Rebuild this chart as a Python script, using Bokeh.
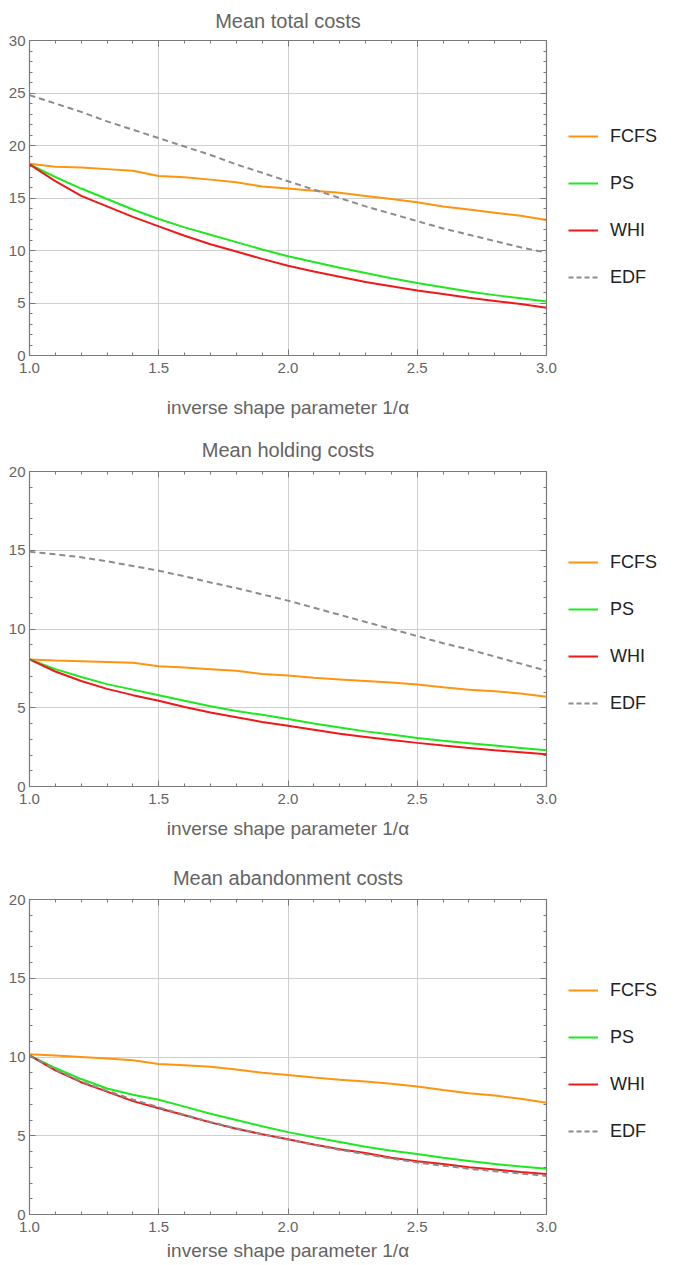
from bokeh.plotting import figure
from bokeh.models import (LinearAxis, Legend, LegendItem, SingleIntervalTicker,
                          PrintfTickFormatter, Range1d, FixedTicker, CustomJSTickFormatter)
from bokeh.layouts import column, row
from bokeh.embed import file_html
from bokeh.resources import INLINE

x = [1.0, 1.1, 1.2, 1.3, 1.4, 1.5, 1.6, 1.7, 1.8, 1.9, 2.0,
     2.1, 2.2, 2.3, 2.4, 2.5, 2.6, 2.7, 2.8, 2.9, 3.0]

series_names = ["FCFS", "PS", "WHI", "EDF"]
x_label = "inverse shape parameter 1/α"

# Panel 1: Mean total costs
total_title = "Mean total costs"
total_fcfs = [18.27, 17.98, 17.9, 17.75, 17.6, 17.1, 16.97, 16.75, 16.5, 16.1, 15.9,
              15.7, 15.5, 15.2, 14.9, 14.6, 14.2, 13.9, 13.6, 13.3, 12.9]
total_ps = [18.2, 17.0, 15.9, 14.9, 13.9, 13.0, 12.2, 11.5, 10.8, 10.1, 9.45,
            8.9, 8.35, 7.85, 7.35, 6.9, 6.5, 6.1, 5.75, 5.45, 5.15]
total_whi = [18.2, 16.6, 15.2, 14.2, 13.2, 12.3, 11.4, 10.6, 9.9, 9.2, 8.55,
             8.0, 7.5, 7.0, 6.6, 6.2, 5.85, 5.5, 5.2, 4.9, 4.55]
total_edf = [24.8, 24.0, 23.2, 22.3, 21.5, 20.7, 19.9, 19.1, 18.2, 17.4, 16.6,
             15.8, 15.0, 14.2, 13.5, 12.8, 12.1, 11.5, 10.9, 10.3, 9.8]

# Panel 2: Mean holding costs
hold_title = "Mean holding costs"
hold_fcfs = [8.07, 8.0, 7.95, 7.9, 7.85, 7.63, 7.55, 7.45, 7.35, 7.15, 7.05,
             6.9, 6.8, 6.7, 6.6, 6.48, 6.3, 6.15, 6.05, 5.9, 5.7]
hold_ps = [8.07, 7.45, 6.95, 6.5, 6.15, 5.8, 5.45, 5.1, 4.8, 4.55, 4.28,
           4.0, 3.75, 3.5, 3.3, 3.08, 2.9, 2.75, 2.6, 2.45, 2.3]
hold_whi = [8.07, 7.3, 6.7, 6.2, 5.8, 5.45, 5.05, 4.7, 4.4, 4.1, 3.85,
            3.6, 3.35, 3.15, 2.95, 2.77, 2.6, 2.45, 2.3, 2.18, 2.05]
hold_edf = [14.9, 14.75, 14.55, 14.3, 14.0, 13.7, 13.35, 12.95, 12.6, 12.2, 11.8,
            11.35, 10.9, 10.45, 10.0, 9.55, 9.1, 8.7, 8.25, 7.8, 7.35]

# Panel 3: Mean abandonment costs
aband_title = "Mean abandonment costs"
aband_fcfs = [10.17, 10.1, 10.0, 9.9, 9.8, 9.56, 9.48, 9.38, 9.2, 9.0, 8.86,
              8.7, 8.55, 8.45, 8.3, 8.12, 7.9, 7.7, 7.55, 7.35, 7.1]
aband_ps = [10.1, 9.3, 8.6, 8.0, 7.6, 7.28, 6.85, 6.4, 6.0, 5.6, 5.23,
            4.9, 4.6, 4.3, 4.05, 3.84, 3.6, 3.4, 3.2, 3.05, 2.9]
aband_whi = [10.1, 9.15, 8.4, 7.8, 7.2, 6.75, 6.3, 5.85, 5.45, 5.1, 4.78,
             4.45, 4.15, 3.9, 3.6, 3.38, 3.2, 3.0, 2.85, 2.7, 2.57]
aband_edf = [10.1, 9.2, 8.45, 7.85, 7.3, 6.8, 6.33, 5.88, 5.47, 5.1, 4.75,
             4.42, 4.1, 3.83, 3.55, 3.3, 3.1, 2.9, 2.75, 2.6, 2.45]

COLORS = {"FCFS": "#FF9410", "PS": "#1EE81E", "WHI": "#F01818", "EDF": "#8C8C8C"}
GRAY_TXT = "#646464"
FRAME = "#7a7a7a"
FONT = "Liberation Sans"


def style_axis(ax, labels=True):
    ax.axis_line_color = None
    ax.major_tick_in = 6
    ax.major_tick_out = 0
    ax.minor_tick_in = 3
    ax.minor_tick_out = 0
    ax.major_tick_line_color = FRAME
    ax.minor_tick_line_color = FRAME
    ax.major_label_text_font = FONT
    ax.major_label_text_font_size = "15px"
    ax.major_label_text_color = GRAY_TXT
    if not labels:
        ax.formatter = CustomJSTickFormatter(code="return '';")
        ax.major_label_standoff = 0
        ax.major_label_text_font_size = "1px"


def make_panel(title, ymax, data, top, bottom, title_standoff, label_standoff, leg_y):
    p = figure(frame_width=517, frame_height=315, x_range=Range1d(1, 3),
               y_range=Range1d(0, ymax), output_backend="svg",
               toolbar_location=None, min_border_left=29, min_border_right=22,
               min_border_top=top, min_border_bottom=bottom, title=title)
    p.title.align = "center"
    p.title.vertical_align = "middle"
    p.title.text_font = FONT
    p.title.text_font_size = "20px"
    p.title.text_font_style = "normal"
    p.title.text_color = GRAY_TXT
    p.title.standoff = title_standoff
    p.outline_line_color = FRAME
    p.outline_line_width = 1.2
    p.background_fill_color = "white"
    p.border_fill_color = "white"

    p.xaxis.ticker = SingleIntervalTicker(interval=0.5, num_minor_ticks=5)
    p.yaxis.ticker = SingleIntervalTicker(interval=5, num_minor_ticks=5)
    p.xaxis.formatter = PrintfTickFormatter(format="%.1f")
    for ax in p.xaxis + p.yaxis:
        style_axis(ax)
    p.xaxis.major_label_standoff = 7
    p.yaxis.major_label_standoff = 4
    p.xaxis.axis_label = x_label
    p.xaxis.axis_label_text_font = FONT
    p.xaxis.axis_label_text_font_size = "19px"
    p.xaxis.axis_label_text_font_style = "normal"
    p.xaxis.axis_label_text_color = GRAY_TXT
    p.xaxis.axis_label_standoff = label_standoff

    p.xgrid.ticker = FixedTicker(ticks=[1.5, 2.0, 2.5])
    p.xgrid.grid_line_color = "#cfcfcf"
    p.ygrid.grid_line_color = "#cfcfcf"

    ax_r = LinearAxis(ticker=SingleIntervalTicker(interval=5, num_minor_ticks=5))
    style_axis(ax_r, labels=False)
    p.add_layout(ax_r, "right")
    ax_t = LinearAxis(ticker=SingleIntervalTicker(interval=0.5, num_minor_ticks=5))
    style_axis(ax_t, labels=False)
    p.add_layout(ax_t, "above")

    for name, vals in zip(series_names, data):
        kw = dict(line_color=COLORS[name], line_width=2)
        if name == "EDF":
            kw["line_dash"] = "6 4"
        p.line(x, vals, **kw)

    # legend column to the right of the frame (its lines sit outside its view)
    height = top + 315 + bottom
    q = figure(width=110, height=height, x_range=Range1d(10, 11), y_range=Range1d(100, 101),
               output_backend="svg", toolbar_location=None, min_border=0)
    q.axis.visible = False
    q.grid.visible = False
    q.outline_line_color = None
    items = []
    for name, vals in zip(series_names, data):
        kw = dict(line_color=COLORS[name], line_width=2)
        if name == "EDF":
            kw["line_dash"] = "5 3"
        r = q.line(x, vals, **kw)
        items.append(LegendItem(label=name, renderers=[r]))
    leg = Legend(items=items, location=(0, leg_y), spacing=25, glyph_width=30,
                 glyph_height=22, label_height=22, label_text_font=FONT,
                 label_text_font_size="18px", label_text_color="#222222",
                 border_line_color=None, background_fill_alpha=0,
                 margin=0, padding=0, label_standoff=12)
    q.add_layout(leg, "center")
    return row(p, q, spacing=0)


p1 = make_panel(total_title, 30, [total_fcfs, total_ps, total_whi, total_edf],
                40, 71, 16, 21, 67)
p2 = make_panel(hold_title, 20, [hold_fcfs, hold_ps, hold_whi, hold_edf],
                45, 65, 20, 11, 72)
p3 = make_panel(aband_title, 20, [aband_fcfs, aband_ps, aband_whi, aband_edf],
                48, 52, 20, 5, 72)

p = column(p1, p2, p3, spacing=0)
open("out.html", "w").write(file_html(p, INLINE))
